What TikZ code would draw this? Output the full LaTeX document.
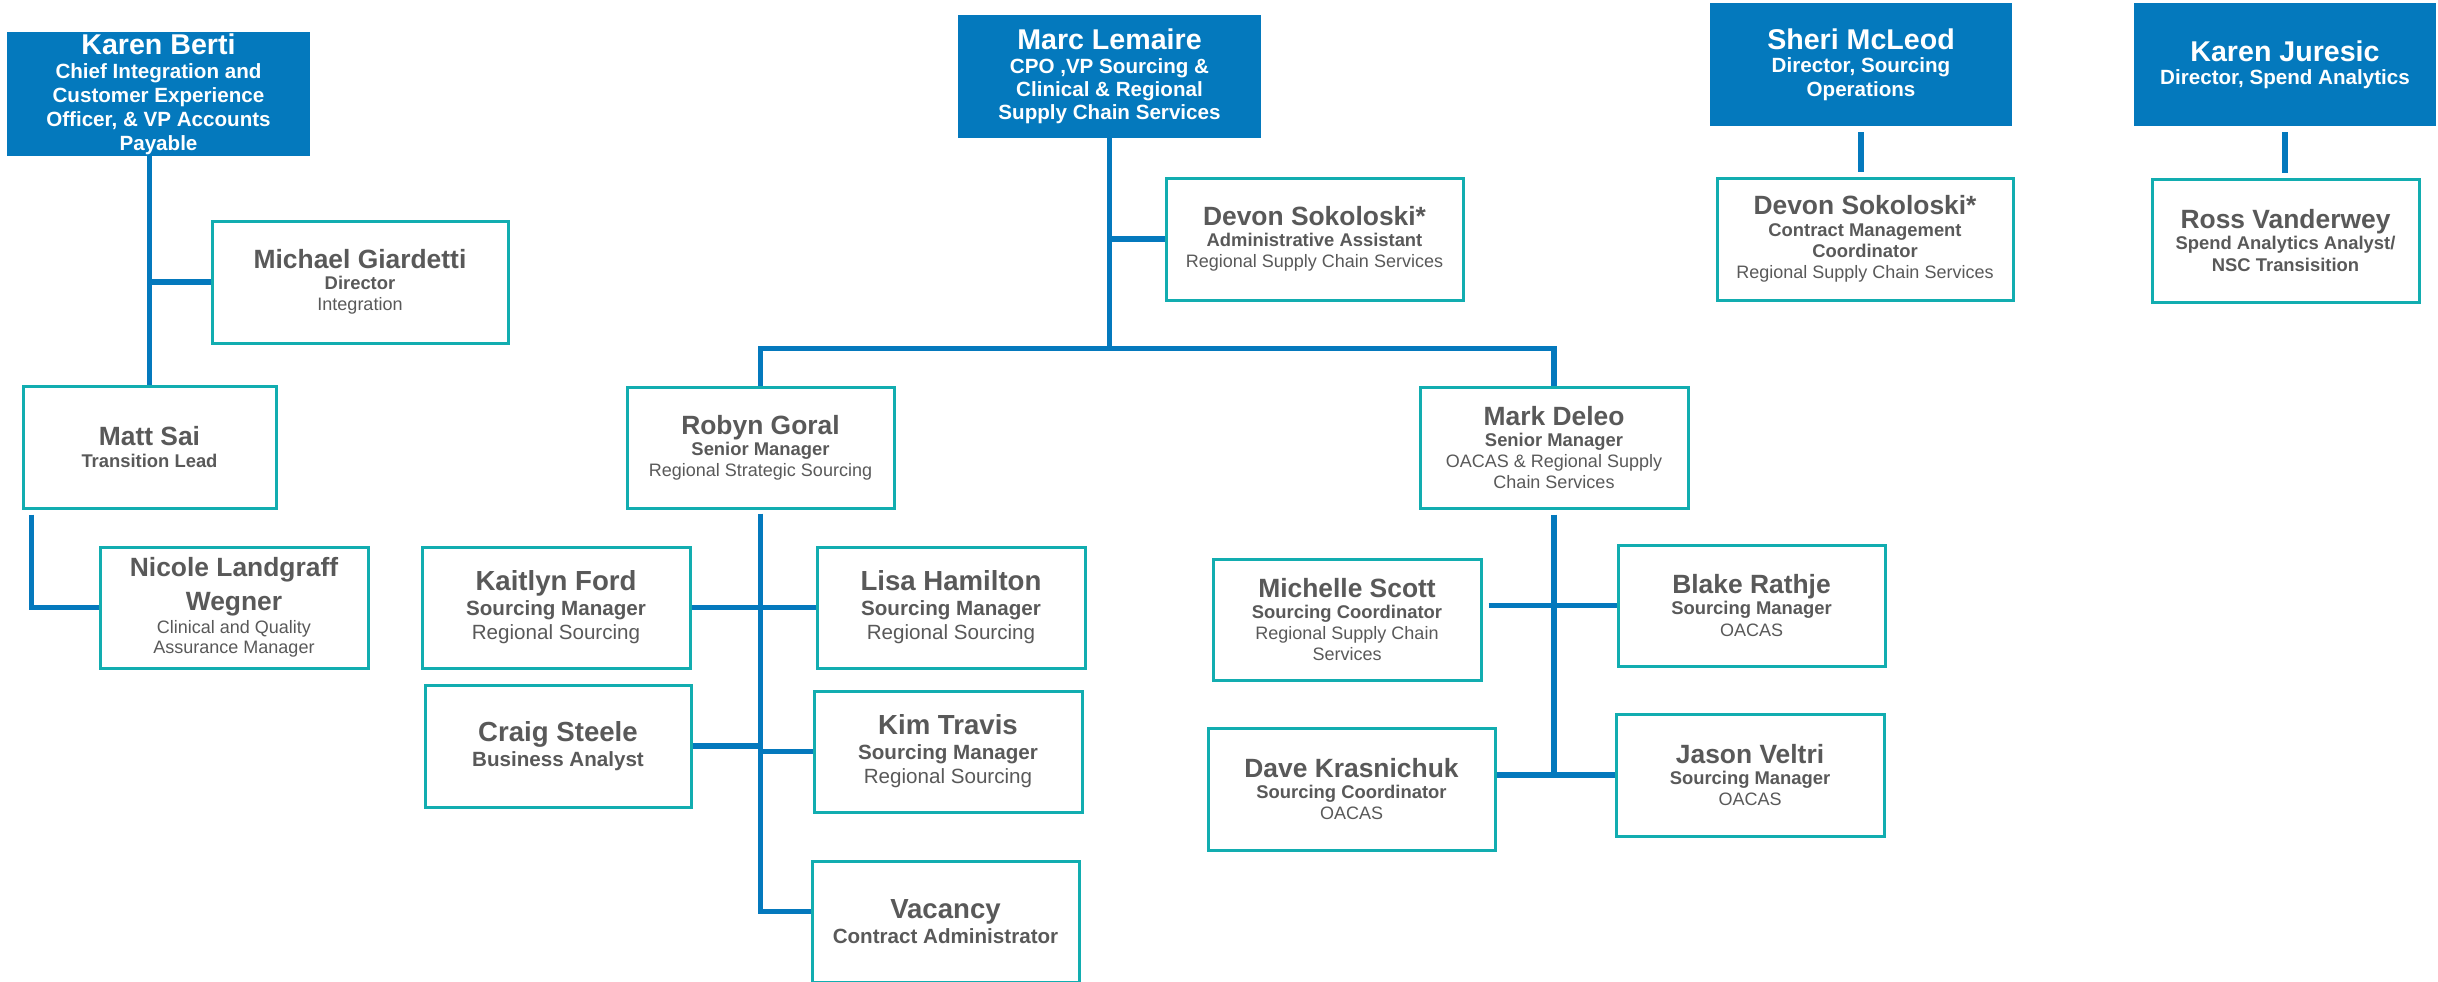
\documentclass[tikz,border=0pt]{standalone}
\usepackage{fontspec}
\setmainfont{Liberation Sans}
\usepackage{tikz}
\definecolor{chartblue}{HTML}{0479BD}
\definecolor{chartteal}{HTML}{12ADB0}
\definecolor{chartgrey}{HTML}{595959}
\newcommand\hname{\fontsize{14.3}{11.7}\selectfont}
\newcommand\pname{\fontsize{13.2}{10.6}\selectfont\bfseries}
\newcommand\bname{\fontsize{13.8}{12.2}\selectfont\bfseries}
\newcommand\prole{\fontsize{9.2}{10.6}\selectfont\bfseries}
\tikzset{
  card size/.style 2 args = {minimum width=#1*0.5pt, minimum height=#2*0.5pt},
  head box/.style = {fill=chartblue, text=white, align=center, inner sep=0pt,
    card size={303}{123}, font=\fontsize{10.3}{11.7}\selectfont\bfseries},
  staff box/.style = {draw=chartteal, line width=1.5pt, fill=white, text=chartgrey,
    align=center, inner sep=0pt, card size={268}{121}, font=\fontsize{9}{10.6}\selectfont},
  big staff/.style = {staff box, font=\fontsize{10.3}{12.2}\selectfont},
  link/.style = {draw=chartblue, line width=2.6pt}
}

\begin{document}
\begin{tikzpicture}[x=0.5pt, y=-0.5pt]

  \useasboundingbox (0,0) rectangle (2438,981);

  \node (KB) at (158.5,94) [head box, card size={303}{124}, font=\fontsize{10.3}{12}\selectfont\bfseries]
    {{\hname Karen Berti}\\Chief Integration and\\Customer Experience\\Officer, \& VP Accounts\\Payable};
  \node (MG) at (360,282) [staff box, card size={296}{122}]
    {{\pname Michael Giardetti}\\{\prole Director}\\Integration};
  \node (MS) at (149.5,447) [staff box, card size={253}{122}]
    {{\pname Matt Sai}\\{\prole Transition Lead}};
  \node (NL) at (234,607.5) [staff box, font=\fontsize{9}{10}\selectfont]
    {{\pname Nicole Landgraff}\\[4pt]{\pname Wegner}\\[1.5pt]Clinical and Quality\\Assurance Manager};

  \node (ML) at (1109.5,76.5) [head box]
    {{\hname Marc Lemaire}\\CPO ,VP Sourcing \&\\Clinical \& Regional\\Supply Chain Services};
  \node (DS) at (1314.5,239) [staff box, card size={297}{122}]
    {{\pname Devon Sokoloski*}\\{\prole Administrative Assistant}\\Regional Supply Chain Services};
  \node (RG) at (760.5,447.5) [staff box, card size={267}{121}]
    {{\pname Robyn Goral}\\{\prole Senior Manager}\\Regional Strategic Sourcing};
  \node (MD) at (1554,447.5) [staff box]
    {{\pname Mark Deleo}\\{\prole Senior Manager}\\OACAS \& Regional Supply\\Chain Services};

  \node (KF) at (556,607.5) [big staff]
    {{\bname Kaitlyn Ford}\\{\bfseries Sourcing Manager}\\Regional Sourcing};
  \node (LH) at (951,607.5) [big staff]
    {{\bname Lisa Hamilton}\\{\bfseries Sourcing Manager}\\Regional Sourcing};
  \node (CS) at (558,746) [big staff, card size={266}{122}]
    {{\bname Craig Steele}\\{\bfseries Business Analyst}};
  \node (KT) at (948,751.5) [big staff]
    {{\bname Kim Travis}\\{\bfseries Sourcing Manager}\\Regional Sourcing};
  \node (VC) at (945.5,921.5) [big staff, card size={267}{121}]
    {{\bname Vacancy}\\{\bfseries Contract Administrator}};

  \node (MSc) at (1347,619.5) [staff box]
    {{\pname Michelle Scott}\\{\prole Sourcing Coordinator}\\Regional Supply Chain\\Services};
  \node (BR) at (1751.5,605.5) [staff box, card size={267}{121}]
    {{\pname Blake Rathje}\\{\prole Sourcing Manager}\\OACAS};
  \node (DK) at (1351.5,789) [staff box, card size={287}{122}]
    {{\pname Dave Krasnichuk}\\{\prole Sourcing Coordinator}\\OACAS};
  \node (JV) at (1750,775) [staff box, card size={268}{122}]
    {{\pname Jason Veltri}\\{\prole Sourcing Manager}\\OACAS};

  \node (SM) at (1861,64.5) [head box, card size={302}{123}]
    {{\hname Sheri McLeod}\\Director, Sourcing\\Operations};
  \node (DS2) at (1865,239) [staff box, card size={296}{122}]
    {{\pname Devon Sokoloski*}\\{\prole Contract Management}\\{\prole Coordinator}\\Regional Supply Chain Services};
  \node (KJ) at (2285,64.5) [head box, card size={302}{123}]
    {{\hname Karen Juresic}\\Director, Spend Analytics};
  \node (RV) at (2285.5,240.5) [staff box, card size={267}{123}]
    {{\pname Ross Vanderwey}\\{\prole Spend Analytics Analyst/}\\{\prole NSC Transisition}};

  \draw[link] (KB.south -| MS.north) -- (MS.north);
  \draw[link] (MG.west) -- (MG.west -| MS.north);
  \draw[link] ([shift={(10,5)}]MS.south west) |- (NL.west);

  \draw[link] (ML.south) -- ++(0,210) coordinate (bar);
  \draw[link] (RG.north) |- (bar) -| (MD.north);
  \draw[link] (DS.west) -- (DS.west -| ML.south);

  \draw[link] ([yshift=-2pt]RG.south) |- ([yshift=5pt]VC.west);
  \draw[link] (KF.east) -- (LH.west);
  \draw[link] (CS.east) -- (CS.east -| RG.south);
  \draw[link] (KT.west) -- (KT.west -| RG.south);

  \draw[link] ([yshift=-2.5pt]MD.south) -- (JV.west -| MD.south);
  \draw[link, shorten <=3pt] (MSc.east |- BR.west) -- (BR.west);
  \draw[link] (DK.east |- JV.west) -- (JV.west);

  \draw[link, shorten <=3pt, shorten >=2.5pt] (SM.south) -- (SM.south |- DS2.north);
  \draw[link, shorten <=3pt, shorten >=2.5pt] (KJ.south) -- (KJ.south |- RV.north);
\end{tikzpicture}
\end{document}
